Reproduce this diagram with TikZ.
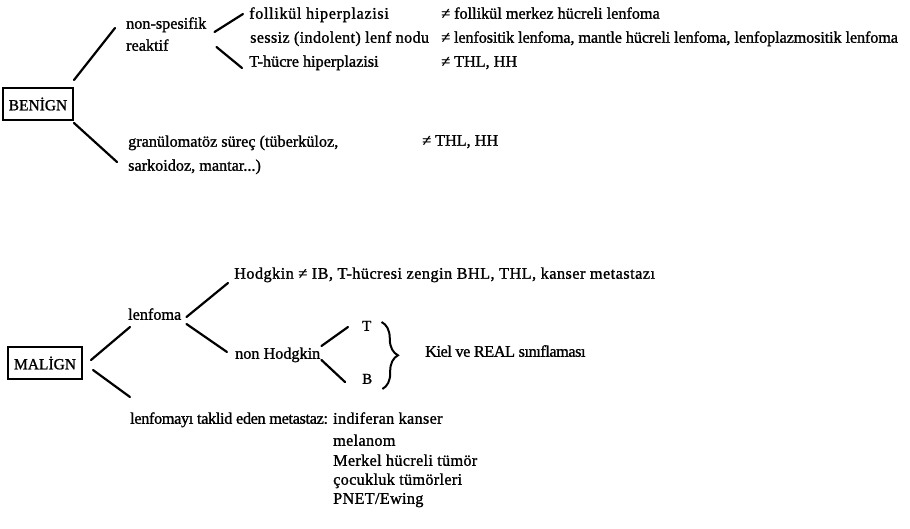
\documentclass[tikz,border=0pt]{standalone}
\usepackage{fontspec}
\setmainfont{Liberation Serif}[FakeBold=1.2]
\usetikzlibrary{calc,decorations.pathreplacing}
\newcommand\track[1]{\addfontfeature{LetterSpace=#1}}
\begin{document}
\begin{tikzpicture}[x=1pt,y=-1pt,
  txt/.style={anchor=west,inner sep=0pt,font=\fontsize{16.2}{20}\selectfont,
    text height=10.5pt,text depth=3pt},
  spaced/.style={txt,font=\fontsize{16.2}{20}\selectfont\track{#1}},
  letter/.style={txt,font=\fontsize{15}{18}\selectfont},
  rootbox/.style={draw,line width=2pt,inner sep=0pt,
    font=\fontsize{15.5}{18}\selectfont},
  link/.style={line width=2.2pt,line cap=round}]
\useasboundingbox (0,0) rectangle (910,529);

% ---- benign branch ----
\node[rootbox,minimum width=70pt,minimum height=32pt] (benign) at (38,104) {BENİGN};
\node[txt] (nonspec) at (126,25) {non-spesifik};
\node[txt] (reaktif) at (126,47) {reaktif};
\node[spaced=4] (foll)   at (249,15) {follikül hiperplazisi};
\node[spaced=2] (sessiz) at (250,39) {sessiz (indolent) lenf nodu};
\node[txt] (thucre) at (249,63) {T-hücre hiperplazisi};
\node[txt] (ne1) at (441,15) {≠ follikül merkez hücreli lenfoma};
\node[spaced=-0.7] (ne2) at (441,39) {≠ lenfositik lenfoma, mantle hücreli lenfoma, lenfoplazmositik lenfoma};
\node[txt] (ne3) at (441,63) {≠ THL, HH};
\node[txt] (granul1) at (128,143) {granülomatöz süreç (tüberküloz,};
\node[txt] (granul2) at (128,167) {sarkoidoz, mantar...)};
\node[txt] (ne4) at (422,142) {≠ THL, HH};

\draw[link] ($(benign.north east)+(0,-7)$) -- ($(nonspec.west)+(-11,3)$);
\draw[link] ($(benign.south east)+(0,2)$) -- ($(granul1.west)+(-11,19)$);
\draw[link] ($(nonspec.east)+(8,7)$) -- ($(foll.west)+(-6,-1)$);
\draw[link] ($(nonspec.east)+(10,22)$) -- ($(thucre.west)+(-7,5)$);

% ---- malign branch ----
\node[rootbox,minimum width=74pt,minimum height=32pt] (malign) at (45,363) {MALİGN};
\node[txt] (lenfoma) at (128,316) {lenfoma};
\node[spaced=3] (hodg) at (234,275) {Hodgkin ≠ IB, T-hücresi zengin BHL, THL, kanser metastazı};
\node[txt] (nonh) at (235,355) {non Hodgkin};
\node[letter] (tcell) at (362,327) {T};
\node[letter] (bcell) at (362,380) {B};
\node[spaced=-2.6] (kiel) at (425,353) {Kiel ve REAL sınıflaması};
\node[spaced=-2] (mimic) at (130,420) {lenfomayı taklid eden metastaz:};
\node[spaced=2] (l1) at (333,420) {indiferan kanser};
\node[spaced=2] (l2) at (333,442) {melanom};
\node[spaced=2] (l3) at (333,462) {Merkel hücreli tümör};
\node[spaced=2] (l4) at (333,481) {çocukluk tümörleri};
\node[spaced=2] (l5) at (333,500) {PNET/Ewing};

\draw[link] ($(malign.east)+(8,-3)$) -- ($(lenfoma.west)+(2,11)$);
\draw[link] ($(malign.east)+(10,7)$) -- ($(mimic.west)+(0,-23)$);
\draw[link] ($(lenfoma.east)+(5,1)$) -- ($(hodg.west)+(-6,8)$);
\draw[link] ($(lenfoma.east)+(5,8)$) -- ($(nonh.west)+(-8,-3)$);
\draw[link] ($(nonh.east)+(1,-9)$) -- ($(tcell.west)+(-14,0)$);
\draw[link] ($(nonh.east)+(1,5)$) -- ($(bcell.west)+(-17,2)$);

\draw[line width=2pt,decorate,decoration={brace,amplitude=16pt}]
  ($(tcell.east)+(10,-5)$) -- ($(bcell.east)+(10,9)$);
\end{tikzpicture}
\end{document}
